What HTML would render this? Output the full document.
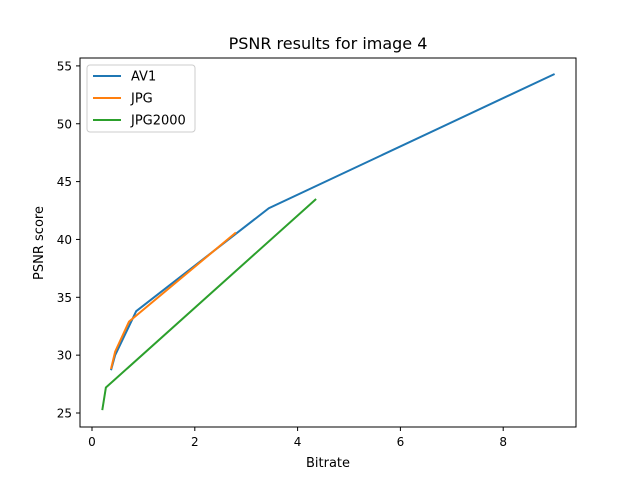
<!DOCTYPE html>
<html><head><meta charset="utf-8"><style>body{margin:0;background:#fff}svg{display:block;font-family:"DejaVu Sans","Liberation Sans",sans-serif}</style></head>
<body>
<svg width="640" height="480">
<rect width="640" height="480" fill="#fff"/>
<text x="328" y="49" font-size="16" text-anchor="middle">PSNR results for image 4</text>
<g id="plot"></g>
<rect x="80" y="58" width="496" height="369" fill="none" stroke="#000" stroke-width="1"/>
<g id="ticks" font-size="12"></g>
<text x="328" y="467" font-size="13" text-anchor="middle">Bitrate</text>
<text x="0" y="0" font-size="13" text-anchor="middle" transform="translate(43,243) rotate(-90)">PSNR score</text>
<g>
<rect x="87" y="65" width="108" height="67" rx="3" fill="#fff" fill-opacity="0.8" stroke="#ccc"/>
<g id="legend"></g>
</g>
</svg>
<script>
const xTicks=[0,2,4,6,8];
const yTicks=[25,30,35,40,45,50,55];
const av1X=[0.37,0.45,0.86,3.44,9.0];
const av1Y=[28.7,30.0,33.8,42.7,54.3];
const jpgX=[0.37,0.45,0.72,2.8];
const jpgY=[28.8,30.3,32.9,40.6];
const j2kX=[0.2,0.27,4.36];
const j2kY=[25.25,27.2,43.5];
const seriesNames=["AV1","JPG","JPG2000"];
const colors=["#1f77b4","#ff7f0e","#2ca02c"];
const NS="http://www.w3.org/2000/svg";
const sx=v=>92+v*51.4;
const sy=v=>413-(v-25)*11.57;
const plot=document.getElementById('plot');
const data=[[av1X,av1Y],[jpgX,jpgY],[j2kX,j2kY]];
data.forEach((d,i)=>{
  const p=document.createElementNS(NS,'polyline');
  p.setAttribute('points',d[0].map((x,k)=>sx(x)+','+sy(d[1][k])).join(' '));
  p.setAttribute('fill','none');p.setAttribute('stroke',colors[i]);p.setAttribute('stroke-width','2');
  
  
  plot.appendChild(p);
});
const tg=document.getElementById('ticks');
xTicks.forEach(t=>{
  const l=document.createElementNS(NS,'line');
  l.setAttribute('x1',sx(t));l.setAttribute('x2',sx(t));l.setAttribute('y1',427);l.setAttribute('y2',431);l.setAttribute('stroke','#000');
  
  
  tg.appendChild(l);
  const tx=document.createElementNS(NS,'text');
  tx.setAttribute('x',sx(t));tx.setAttribute('y',446);tx.setAttribute('text-anchor','middle');tx.textContent=t;
  
  
  tg.appendChild(tx);
});
yTicks.forEach(t=>{
  const l=document.createElementNS(NS,'line');
  l.setAttribute('x1',76);l.setAttribute('x2',80);l.setAttribute('y1',sy(t));l.setAttribute('y2',sy(t));l.setAttribute('stroke','#000');
  
  
  tg.appendChild(l);
  const tx=document.createElementNS(NS,'text');
  tx.setAttribute('x',72);tx.setAttribute('y',sy(t)+4.5);tx.setAttribute('text-anchor','end');tx.textContent=t;
  
  
  tg.appendChild(tx);
});
const lg=document.getElementById('legend');
seriesNames.forEach((n,i)=>{
  const y=76+i*22;
  const l=document.createElementNS(NS,'line');
  l.setAttribute('x1',93);l.setAttribute('x2',121);l.setAttribute('y1',y);l.setAttribute('y2',y);l.setAttribute('stroke',colors[i]);l.setAttribute('stroke-width','2');
  
  
  lg.appendChild(l);
  const t=document.createElementNS(NS,'text');
  t.setAttribute('x',131);t.setAttribute('y',y+4.5);t.setAttribute('font-size','13');t.textContent=n;
  
  
  lg.appendChild(t);
});
</script>
</body></html>
